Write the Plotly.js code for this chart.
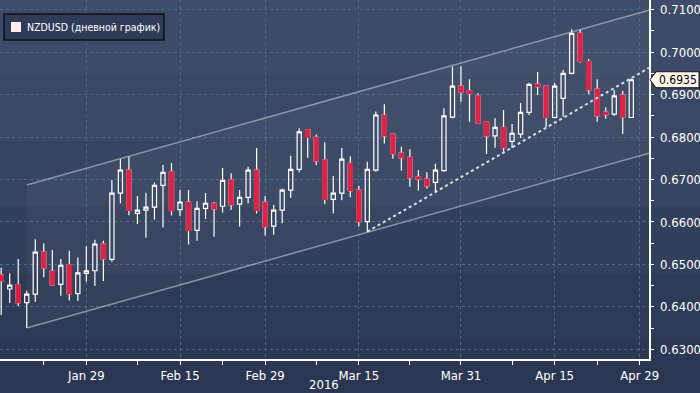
<!DOCTYPE html>
<html>
<head>
<meta charset="utf-8">
<script src="https://cdn.plot.ly/plotly-3.0.1.min.js"></script>
<style>html,body{margin:0;padding:0;background:#2b3752;}#chart{width:700px;height:393px;}</style>
</head>
<body>
<div id="chart"></div>
<script>
// ---- data (NZDUSD daily) ----
const dates = [
 '2016-01-15','2016-01-18','2016-01-19','2016-01-20','2016-01-21','2016-01-22',
 '2016-01-25','2016-01-26','2016-01-27','2016-01-28','2016-01-29',
 '2016-02-01','2016-02-02','2016-02-03','2016-02-04','2016-02-05',
 '2016-02-08','2016-02-09','2016-02-10','2016-02-11','2016-02-12',
 '2016-02-15','2016-02-16','2016-02-17','2016-02-18','2016-02-19',
 '2016-02-22','2016-02-23','2016-02-24','2016-02-25','2016-02-26','2016-02-29',
 '2016-03-01','2016-03-02','2016-03-03','2016-03-04',
 '2016-03-07','2016-03-08','2016-03-09','2016-03-10','2016-03-11',
 '2016-03-14','2016-03-15','2016-03-16','2016-03-17','2016-03-18',
 '2016-03-21','2016-03-22','2016-03-23','2016-03-24','2016-03-25',
 '2016-03-28','2016-03-29','2016-03-30','2016-03-31','2016-04-01',
 '2016-04-04','2016-04-05','2016-04-06','2016-04-07','2016-04-08',
 '2016-04-11','2016-04-12','2016-04-13','2016-04-14','2016-04-15',
 '2016-04-18','2016-04-19','2016-04-20','2016-04-21','2016-04-22',
 '2016-04-25','2016-04-26','2016-04-27','2016-04-28'
];
const opens = [
 0.6475,0.6442,0.6452,0.6410,0.6430,0.6529,0.6484,0.6453,0.6499,0.6431,0.6479,
 0.6485,0.6548,0.6512,0.6668,0.6722,0.6620,0.6628,0.6635,0.6686,0.6718,
 0.6629,0.6647,0.6580,0.6632,0.6644,0.6637,0.6699,0.6642,0.6658,0.6722,0.6647,
 0.6590,0.6628,0.6675,0.6724,0.6817,0.6799,0.6746,0.6653,0.6668,
 0.6738,0.6675,0.6601,0.6722,0.6851,0.6807,0.6762,0.6752,0.6706,0.6701,
 0.6693,0.6721,0.6847,0.6920,0.6909,0.6897,0.6836,0.6803,0.6823,0.6790,
 0.6807,0.6858,0.6925,0.6920,0.6846,0.6891,0.6950,0.7044,0.6978,0.6913,
 0.6859,0.6854,0.6899,0.6846
];
const highs = [
 0.6492,0.6479,0.6513,0.6438,0.6559,0.6550,0.6534,0.6513,0.6532,0.6516,0.6543,
 0.6558,0.6556,0.6699,0.6748,0.6754,0.6661,0.6669,0.6693,0.6734,0.6739,
 0.6675,0.6675,0.6649,0.6668,0.6647,0.6727,0.6715,0.6675,0.6730,0.6774,0.6661,
 0.6640,0.6678,0.6756,0.6821,0.6818,0.6806,0.6788,0.6708,0.6774,
 0.6755,0.6685,0.6742,0.6860,0.6877,0.6808,0.6777,0.6771,0.6722,0.6717,
 0.6737,0.6868,0.6966,0.6967,0.6936,0.6903,0.6836,0.6844,0.6864,0.6831,
 0.6880,0.6928,0.6953,0.6921,0.6928,0.6958,0.7054,0.7052,0.6984,0.6936,
 0.6870,0.6911,0.6909,0.6938
];
const lows = [
 0.6381,0.6409,0.6402,0.6350,0.6412,0.6470,0.6450,0.6426,0.6415,0.6414,0.6459,
 0.6449,0.6461,0.6506,0.6644,0.6616,0.6595,0.6563,0.6605,0.6587,0.6615,
 0.6614,0.6547,0.6556,0.6607,0.6565,0.6622,0.6628,0.6589,0.6644,0.6620,0.6568,
 0.6570,0.6597,0.6657,0.6717,0.6751,0.6734,0.6642,0.6620,0.6651,
 0.6658,0.6589,0.6577,0.6718,0.6785,0.6749,0.6721,0.6683,0.6674,0.6678,
 0.6670,0.6718,0.6844,0.6883,0.6836,0.6832,0.6760,0.6775,0.6766,0.6774,
 0.6798,0.6852,0.6899,0.6823,0.6844,0.6848,0.6948,0.6975,0.6901,0.6836,
 0.6843,0.6850,0.6807,0.6845
];
const closes = [
 0.6461,0.6451,0.6410,0.6430,0.6529,0.6492,0.6452,0.6498,0.6431,0.6480,0.6485,
 0.6548,0.6513,0.6668,0.6722,0.6627,0.6628,0.6635,0.6686,0.6717,0.6627,
 0.6647,0.6580,0.6632,0.6644,0.6631,0.6698,0.6641,0.6658,0.6722,0.6627,0.6589,
 0.6628,0.6675,0.6724,0.6812,0.6799,0.6744,0.6653,0.6668,0.6748,
 0.6674,0.6601,0.6724,0.6852,0.6803,0.6761,0.6751,0.6704,0.6701,0.6685,
 0.6722,0.6850,0.6920,0.6906,0.6902,0.6833,0.6803,0.6823,0.6775,0.6809,
 0.6858,0.6924,0.6919,0.6846,0.6920,0.6950,0.7044,0.6978,0.6911,0.6850,
 0.6853,0.6897,0.6847,0.6935
];
// channel and support lines
const channelDates = ['2016-01-20', '2016-05-02 02:00'];
const channelUpper = [0.6687, 0.7099];
const channelLower = [0.6350, 0.6762];
const supportDates = ['2016-03-16', '2016-05-02 02:00'];
const supportValues = [0.6577, 0.6963];
// tick labels
const xTickVals = ['2016-01-29','2016-02-15','2016-02-29','2016-03-15','2016-03-31','2016-04-15','2016-04-29'];
const xTickText = ['Jan 29','Feb 15','Feb 29','Mar 15','Mar 31','Apr 15','Apr 29'];
const xMinorVals = ['2016-01-22','2016-02-08','2016-02-22','2016-03-08','2016-03-23','2016-04-08','2016-04-22'];
const yTickVals = [0.63,0.64,0.65,0.66,0.67,0.68,0.69,0.70,0.71];
const yTickText = yTickVals.map(v => v.toFixed(4));
const seriesName = 'NZDUSD (дневной график)';
const yearLabel = '2016';

// ---- styling ----
const RED = '#dc1c40';
const FONT = "'DejaVu Sans Condensed', 'Liberation Sans Narrow', 'DejaVu Sans Mono', sans-serif";
const X_RANGE = ['2016-01-14 20:36', '2016-05-02 02:00'];
const Y_RANGE = [0.627715, 0.712285];
const PW = 649, PH = 359;
const px = v => v / PW;            // pixel -> paper x
const py = v => 1 - v / PH;        // pixel -> paper y

// decreasing-only bodies (cover the white outline)
const dIdx = dates.map((d, i) => i).filter(i => closes[i] < opens[i]);

const traces = [
  { // channel fill
    type: 'scatter', mode: 'lines',
    x: [channelDates[0], channelDates[1], channelDates[1], channelDates[0]],
    y: [channelLower[0], channelLower[1], channelUpper[1], channelUpper[0]],
    fill: 'toself', fillcolor: 'rgba(255,255,255,0.035)',
    line: {width: 0}, hoverinfo: 'skip'
  },
  { type: 'scatter', mode: 'lines', x: channelDates, y: channelUpper,
    line: {color: 'rgba(205,210,222,0.55)', width: 1.5}, hoverinfo: 'skip' },
  { type: 'scatter', mode: 'lines', x: channelDates, y: channelLower,
    line: {color: 'rgba(205,210,222,0.55)', width: 1.5}, hoverinfo: 'skip' },
  {
    type: 'candlestick', x: dates, open: opens, high: highs, low: lows, close: closes,
    increasing: {line: {color: '#ffffff', width: 1.2}, fillcolor: 'rgba(0,0,0,0)'},
    decreasing: {line: {color: '#ffffff', width: 1.2}, fillcolor: RED},
    whiskerwidth: 0, hoverinfo: 'skip'
  },
  {
    type: 'candlestick', x: dIdx.map(i => dates[i]),
    open: dIdx.map(i => opens[i]), high: dIdx.map(i => opens[i]),
    low: dIdx.map(i => closes[i]), close: dIdx.map(i => closes[i]),
    increasing: {line: {color: RED, width: 1.2}, fillcolor: RED},
    decreasing: {line: {color: RED, width: 1.2}, fillcolor: RED},
    whiskerwidth: 0, hoverinfo: 'skip'
  },
  { type: 'scatter', mode: 'lines', x: supportDates, y: supportValues,
    line: {color: 'rgba(235,238,245,0.9)', width: 2, dash: 'dot'}, hoverinfo: 'skip' },
  { // right-axis tick arrows
    type: 'scatter', mode: 'markers', cliponaxis: false,
    x: yTickVals.map(() => '2016-05-02 13:00'), y: yTickVals,
    marker: {symbol: 'triangle-right', size: 7, color: '#ffffff', line: {width: 0}},
    hoverinfo: 'skip'
  }
];

// background horizontal bands
const bandEdges = [0, 9, 75, 141, 207, 273, 339, 359];
const bandColors = ['#3f4d6a', '#3d4b68', '#3a4865', '#374562', '#33405c', '#2e3b56', '#2c3853'];
const shapes = [];
for (let i = 0; i < bandColors.length; i++) {
  shapes.push({type: 'rect', xref: 'paper', yref: 'paper', layer: 'below',
    x0: 0, x1: 700 / PW, y0: py(bandEdges[i + 1]), y1: py(bandEdges[i]),
    fillcolor: bandColors[i], line: {width: 0}});
}
// legend box
shapes.push({type: 'rect', xref: 'paper', yref: 'paper', layer: 'above',
  x0: px(4), x1: px(164), y0: py(40), y1: py(14),
  fillcolor: '#2f3b57', line: {color: '#0d1018', width: 1.5}});
shapes.push({type: 'rect', xref: 'paper', yref: 'paper', layer: 'above',
  x0: px(11), x1: px(21), y0: py(32), y1: py(22),
  fillcolor: '#fff0ee', line: {width: 0}});
// last-price tag
const last = closes[closes.length - 1];
const hh = 8 / (PH / (Y_RANGE[1] - Y_RANGE[0]));
shapes.push({type: 'path', xref: 'paper', yref: 'y', layer: 'above',
  path: `M ${px(650)},${last} L ${px(656)},${last + hh} L ${px(699)},${last + hh} L ${px(699)},${last - hh} L ${px(656)},${last - hh} Z`,
  fillcolor: '#fff6ec', line: {color: '#111111', width: 1}});

const annotations = [
  {xref: 'paper', yref: 'paper', x: px(25), y: py(27), xanchor: 'left', yanchor: 'middle',
   text: seriesName, showarrow: false, font: {family: FONT, size: 10.5, color: '#ffffff'}},
  {xref: 'paper', yref: 'paper', x: px(324), y: py(384), xanchor: 'center', yanchor: 'middle',
   text: yearLabel, showarrow: false, font: {family: FONT, size: 13, color: '#ffffff'}},
  {xref: 'paper', yref: 'y', x: px(657), y: last, xanchor: 'left', yanchor: 'middle',
   text: last.toFixed(4), showarrow: false, font: {family: FONT, size: 12, color: '#000000'}}
];

const layout = {
  width: 700, height: 393,
  margin: {l: 0, r: 51, t: 0, b: 34, pad: 0},
  paper_bgcolor: '#2b3752', plot_bgcolor: 'rgba(0,0,0,0)',
  showlegend: false,
  font: {family: FONT, color: '#ffffff', size: 13},
  xaxis: {
    type: 'date', range: X_RANGE, rangeslider: {visible: false},
    rangebreaks: [{bounds: ['sat', 'mon']}],
    tickmode: 'array', tickvals: xTickVals, ticktext: xTickText,
    ticks: 'outside', ticklen: 4, tickwidth: 1, tickcolor: '#ffffff',
    showgrid: true, gridcolor: '#4b6b88', griddash: '3px,3px', gridwidth: 1,
    showline: true, linecolor: '#ffffff', linewidth: 1.5,
    zeroline: false, fixedrange: true,
    tickfont: {family: FONT, size: 13, color: '#ffffff'},
    minor: {tickmode: 'array', tickvals: xMinorVals, ticks: 'outside', ticklen: 4,
            tickwidth: 1, tickcolor: '#ffffff', showgrid: false}
  },
  yaxis: {
    side: 'right', range: Y_RANGE,
    tickmode: 'array', tickvals: yTickVals, ticktext: yTickText,
    ticks: 'outside', ticklen: 7, tickcolor: 'rgba(0,0,0,0)',
    showgrid: true, gridcolor: '#4b6b88', griddash: '3px,3px', gridwidth: 1,
    showline: true, linecolor: '#ffffff', linewidth: 1.5,
    zeroline: false, fixedrange: true,
    tickfont: {family: FONT, size: 13, color: '#ffffff'},
    minor: {dtick: 0.005, tick0: 0.625, ticks: 'outside', ticklen: 3, tickwidth: 1,
            tickcolor: '#ffffff', showgrid: false}
  },
  boxgap: 0.3,
  shapes: shapes,
  annotations: annotations
};

Plotly.newPlot('chart', traces, layout, {staticPlot: true, displayModeBar: false});
</script>
</body>
</html>
